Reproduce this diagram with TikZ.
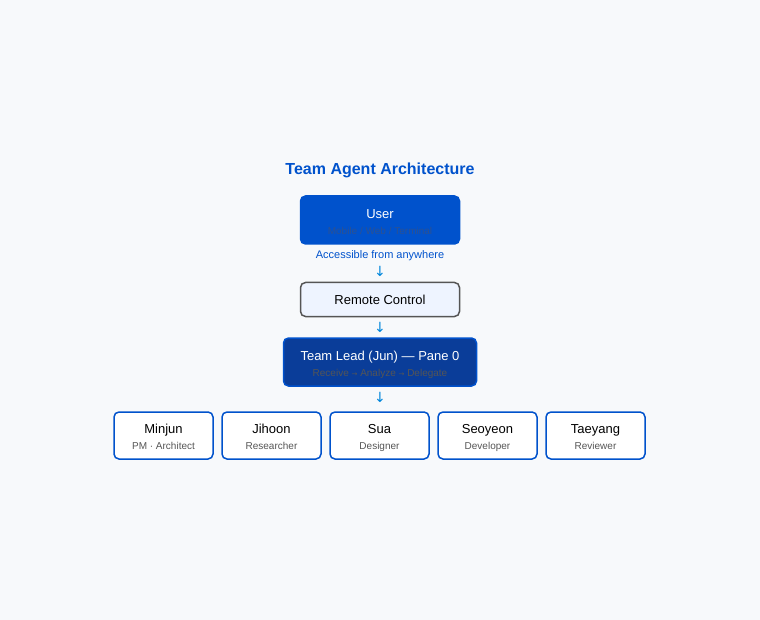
\documentclass[tikz,border=0pt]{standalone}
\usepackage{fontspec}
\setmainfont{Liberation Sans}
\newfontfamily\symfont{DejaVu Sans}
\usetikzlibrary{positioning}
\definecolor{bg}{HTML}{F7F9FB}
\definecolor{brand}{HTML}{0052CC}
\definecolor{navy}{HTML}{0A3D99}
\definecolor{pale}{HTML}{EEF4FF}
\definecolor{sub}{HTML}{555555}
\tikzset{
  box/.style={draw, rounded corners=5pt, line width=1.5pt, align=center, inner sep=0pt, outer sep=0pt},
  agent/.style={box, draw=brand, fill=white, minimum width=99pt, minimum height=47pt},
  down/.style={text=brand!70!cyan, font=\symfont\fontsize{14}{14}\selectfont}
}
\newcommand{\topline}{\rule{0pt}{16pt}}
\newcommand{\subline}[2][sub]{\\[1pt]{\color{#1}\fontsize{10}{12}\selectfont\strut #2}}
\begin{document}
\begin{tikzpicture}[x=1pt, y=-1pt, every node/.style={font=\fontsize{13}{15}\selectfont}]
\fill[bg] (0,0) rectangle (760,620);
\node (title) at (380,170) [text=brand, font=\bfseries\fontsize{16}{18}\selectfont] {Team Agent Architecture};
\node (user) at (380,220) [box, draw=brand, fill=brand, text=white,
minimum width=159pt, minimum height=48pt] {\topline User\subline[navy!70!gray]{Mobile / Web / Terminal}};
\node (note) at (380,256) [text=brand, font=\fontsize{11}{13}\selectfont] {Accessible from anywhere};
\node (a1) at (380,271) [down] {↓};
\node (remote) at (380,299.5) [box, draw=sub, fill=pale,
minimum width=159pt, minimum height=34pt] {Remote Control};
\node (a2) at (380,327) [down] {↓};
\node (lead) at (380,362) [box, draw=brand, fill=navy, text=white,
minimum width=193pt, minimum height=48pt] {\topline Team Lead (Jun) — Pane 0\subline[sub]{Receive {\symfont\fontsize{7}{7}\selectfont→} Analyze {\symfont\fontsize{7}{7}\selectfont→} Delegate}};
\node (a3) at (380,397) [down] {↓};
\node (minjun) at (163.5,435.5) [agent] {\topline Minjun\subline{PM · Architect}};
\node (jihoon) [agent, right=9pt of minjun] {\topline Jihoon\subline{Researcher}};
\node (sua) [agent, right=9pt of jihoon] {\topline Sua\subline{Designer}};
\node (seoyeon) [agent, right=9pt of sua] {\topline Seoyeon\subline{Developer}};
\node (taeyang) [agent, right=9pt of seoyeon] {\topline Taeyang\subline{Reviewer}};
\end{tikzpicture}
\end{document}
